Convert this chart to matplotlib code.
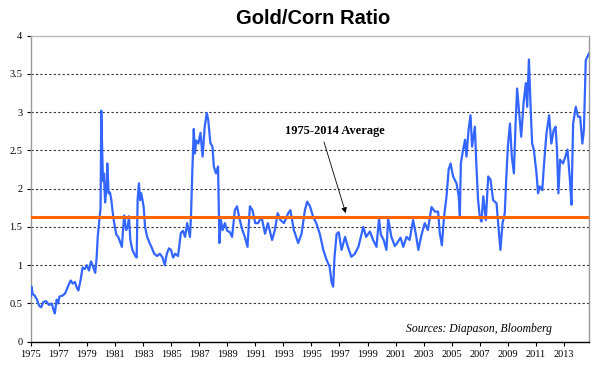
import matplotlib
matplotlib.use('Agg')
import matplotlib.pyplot as plt

# values (decimal year, gold/corn ratio)
years = [
    1975.00, 1975.05, 1975.15, 1975.30, 1975.45, 1975.60, 1975.75, 1975.90, 1976.10, 1976.30,
    1976.50, 1976.62, 1976.72, 1976.85, 1976.95, 1977.05, 1977.25, 1977.45, 1977.65, 1977.85,
    1978.00, 1978.15, 1978.30, 1978.40, 1978.55, 1978.70, 1978.85, 1979.00, 1979.15, 1979.30,
    1979.45, 1979.60, 1979.70, 1979.78, 1979.90, 1979.98, 1980.03, 1980.08, 1980.15, 1980.22,
    1980.30, 1980.40, 1980.46, 1980.55, 1980.65, 1980.75, 1980.85, 1980.95, 1981.10, 1981.24,
    1981.40, 1981.50, 1981.58, 1981.66, 1981.80, 1981.92, 1982.00, 1982.10, 1982.25, 1982.43,
    1982.55, 1982.62, 1982.71, 1982.80, 1982.88, 1982.97, 1983.05, 1983.15, 1983.30, 1983.45,
    1983.60, 1983.80, 1984.00, 1984.20, 1984.40, 1984.55, 1984.70, 1984.85, 1985.00, 1985.15,
    1985.30, 1985.50, 1985.70, 1985.85, 1986.00, 1986.15, 1986.35, 1986.42, 1986.52, 1986.62,
    1986.70, 1986.80, 1986.95, 1987.10, 1987.25, 1987.40, 1987.55, 1987.65, 1987.80, 1987.95,
    1988.05, 1988.20, 1988.35, 1988.45, 1988.55, 1988.68, 1988.84, 1989.00, 1989.20, 1989.35,
    1989.55, 1989.70, 1989.90, 1990.10, 1990.26, 1990.45, 1990.62, 1990.80, 1991.00, 1991.20,
    1991.45, 1991.70, 1991.90, 1992.20, 1992.40, 1992.60, 1992.80, 1993.05, 1993.35, 1993.50,
    1993.75, 1994.06, 1994.30, 1994.54, 1994.70, 1994.90, 1995.13, 1995.35, 1995.60, 1995.85,
    1996.08, 1996.30, 1996.44, 1996.55, 1996.65, 1996.80, 1996.95, 1997.15, 1997.40, 1997.60,
    1997.85, 1998.10, 1998.35, 1998.70, 1998.90, 1999.17, 1999.40, 1999.64, 1999.82, 1999.95,
    2000.15, 2000.35, 2000.47, 2000.70, 2000.95, 2001.15, 2001.35, 2001.55, 2001.78, 2002.00,
    2002.25, 2002.45, 2002.62, 2002.85, 2003.08, 2003.30, 2003.56, 2003.80, 2004.03, 2004.15,
    2004.30, 2004.45, 2004.63, 2004.78, 2004.92, 2005.10, 2005.34, 2005.50, 2005.58, 2005.65,
    2005.80, 2005.95, 2006.05, 2006.20, 2006.34, 2006.45, 2006.65, 2006.75, 2006.88, 2007.00,
    2007.12, 2007.25, 2007.43, 2007.60, 2007.76, 2007.95, 2008.19, 2008.35, 2008.47, 2008.62,
    2008.78, 2008.88, 2009.00, 2009.15, 2009.28, 2009.43, 2009.55, 2009.66, 2009.80, 2009.95,
    2010.12, 2010.28, 2010.38, 2010.50, 2010.62, 2010.73, 2010.85, 2011.04, 2011.15, 2011.27,
    2011.45, 2011.58, 2011.75, 2011.94, 2012.10, 2012.27, 2012.40, 2012.50, 2012.60, 2012.72,
    2012.93, 2013.10, 2013.25, 2013.42, 2013.53, 2013.65, 2013.84, 2014.00, 2014.15, 2014.31,
    2014.42, 2014.55, 2014.79,
]
ratio = [
    0.59, 0.72, 0.62, 0.60, 0.55, 0.47, 0.45, 0.52, 0.53, 0.48,
    0.50, 0.42, 0.37, 0.55, 0.50, 0.59, 0.60, 0.63, 0.72, 0.80,
    0.76, 0.78, 0.70, 0.67, 0.80, 0.97, 0.95, 1.00, 0.93, 1.05,
    0.98, 0.90, 1.10, 1.38, 1.60, 1.75, 3.02, 2.65, 2.10, 2.20,
    1.82, 2.00, 2.33, 1.94, 1.95, 1.85, 1.68, 1.55, 1.40, 1.37,
    1.29, 1.24, 1.46, 1.65, 1.46, 1.50, 1.64, 1.33, 1.20, 1.13,
    1.10, 1.85, 2.07, 1.85, 1.94, 1.85, 1.76, 1.50, 1.37, 1.30,
    1.24, 1.15, 1.12, 1.15, 1.10, 1.00, 1.15, 1.22, 1.20, 1.10,
    1.15, 1.12, 1.42, 1.45, 1.37, 1.55, 1.37, 1.63, 2.24, 2.78,
    2.46, 2.63, 2.59, 2.73, 2.42, 2.81, 2.99, 2.90, 2.60, 2.55,
    2.29, 2.20, 2.29, 1.29, 1.59, 1.46, 1.55, 1.45, 1.43, 1.37,
    1.72, 1.77, 1.59, 1.45, 1.37, 1.24, 1.77, 1.72, 1.55, 1.55,
    1.63, 1.41, 1.55, 1.33, 1.46, 1.68, 1.59, 1.55, 1.68, 1.72,
    1.46, 1.29, 1.41, 1.72, 1.83, 1.77, 1.63, 1.55, 1.41, 1.20,
    1.07, 0.98, 0.78, 0.72, 1.11, 1.41, 1.43, 1.20, 1.37, 1.24,
    1.11, 1.15, 1.24, 1.50, 1.37, 1.44, 1.33, 1.24, 1.61, 1.40,
    1.33, 1.20, 1.61, 1.37, 1.25, 1.30, 1.36, 1.24, 1.37, 1.33,
    1.59, 1.40, 1.20, 1.40, 1.55, 1.46, 1.76, 1.70, 1.70, 1.42,
    1.26, 1.63, 1.90, 2.25, 2.33, 2.16, 2.07, 1.90, 1.65, 2.33,
    2.50, 2.64, 2.42, 2.77, 2.96, 2.55, 2.81, 2.33, 1.85, 1.63,
    1.57, 1.90, 1.59, 2.16, 2.12, 1.85, 1.81, 1.46, 1.20, 1.55,
    1.68, 2.11, 2.55, 2.85, 2.42, 2.20, 2.85, 3.31, 3.00, 2.68,
    3.12, 3.38, 3.07, 3.69, 3.07, 2.59, 2.51, 2.20, 1.94, 2.03,
    1.98, 2.33, 2.72, 2.96, 2.59, 2.77, 2.81, 2.51, 1.94, 2.38,
    2.33, 2.42, 2.51, 2.12, 1.79, 2.85, 3.07, 2.94, 2.94, 2.59,
    2.77, 3.68, 3.77,
]
average = 1.63
tick_years = list(range(1975, 2014, 2))
y_ticks = [0, 0.5, 1, 1.5, 2, 2.5, 3, 3.5, 4]
y_labels = ['0', '0.5', '1', '1.5', '2', '2.5', '3', '3.5', '4']

fig = plt.figure(figsize=(6.1, 3.75), dpi=100)
ax = fig.add_axes([0.0503, 0.0888, 0.9157, 0.816])

# 网格线
for v in y_ticks[1:-1]:
    ax.axhline(v, color='#333333', linewidth=0.8, linestyle=(0, (2, 2)), zorder=1)

ax.plot(years, ratio, color='#3366ff', linewidth=1.6, zorder=3)
ax.axhline(average, color='#ff6600', linewidth=2.2, zorder=4)

ax.set_xlim(1975, 2014.8)
ax.set_ylim(0, 4)
ax.set_xticks(tick_years)
ax.set_xticklabels([str(y) for y in tick_years], family='Liberation Serif', fontsize=7.5)
ax.set_yticks(y_ticks)
ax.set_yticklabels(y_labels, family='Liberation Serif', fontsize=7.5)
ax.tick_params(axis='both', direction='out', length=3, width=0.8, pad=3)

ax.spines['bottom'].set_color('black')
ax.spines['left'].set_color('#999999')
ax.spines['top'].set_color('#bbbbbb')
ax.spines['right'].set_color('#999999')
for s in ax.spines.values():
    s.set_linewidth(1.0)

fig.text(0.513, 0.952, 'Gold/Corn Ratio', ha='center', va='center',
         family='Liberation Sans', fontweight='bold', fontsize=14.5)

ax.text(1996.7, 2.76, '1975-2014 Average', ha='center', va='center',
        family='Liberation Serif', fontweight='bold', fontsize=8.9, zorder=5)
ax.annotate('', xy=(1997.45, 1.68), xytext=(1995.9, 2.61),
            arrowprops=dict(arrowstyle='-|>', color='black', lw=0.6, mutation_scale=8,
                            shrinkA=0, shrinkB=0), zorder=5)

ax.text(2006.93, 0.166, 'Sources: Diapason, Bloomberg', ha='center', va='center',
        family='Liberation Serif', style='italic', fontsize=8.4)

plt.savefig('out.png', dpi=100)
